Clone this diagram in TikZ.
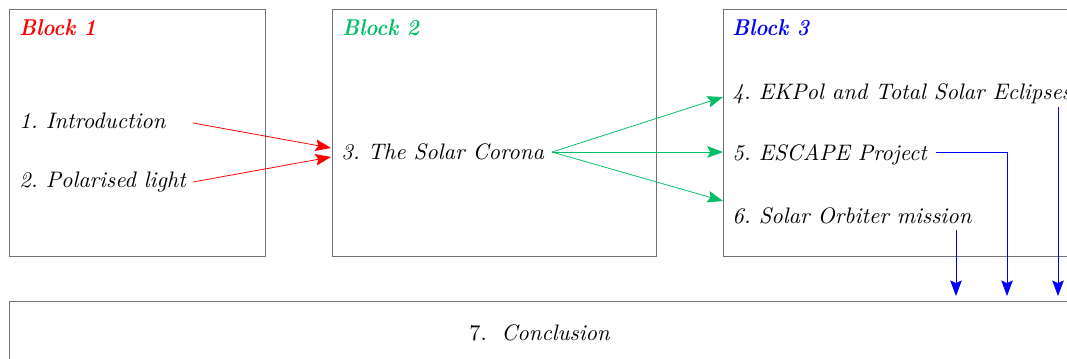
\documentclass[tikz,border=0pt]{standalone}
\usetikzlibrary{arrows.meta}
\definecolor{bgreen}{RGB}{0,190,100}
\newcommand{\itemfont}{\fontsize{10.1pt}{12pt}\selectfont\itshape}
\newcommand{\blocktitle}[1]{\scalebox{0.9}[1]{\bfseries #1}}
\tikzset{
  box/.style={draw=black!55, line width=0.45pt},
  item/.style={anchor=west, inner sep=0pt, font=\itemfont},
  title/.style={anchor=west, inner sep=0pt, font=\fontsize{10.3pt}{12pt}\selectfont\itshape},
  conn/.style={line width=0.35pt, -{Stealth[length=7pt, width=5.2pt, inset=1.2pt]}},
}
\begin{document}
\frenchspacing
\begin{tikzpicture}[x=0.45pt, y=-0.45pt]
\useasboundingbox (0,0) rectangle (1067,358);
\clip (0,0) rectangle (1067,358);
% boxes
\draw[box] (9,9) rectangle (265,256);
\draw[box] (332,9) rectangle (656,256);
\draw[box] (723,9) rectangle (1090,256);
\draw[box] (9,301) rectangle (1067,380);
% titles
\node[title, text=red] (t1) at (19,28) {\blocktitle{Block 1}};
\node[title, text=bgreen] (t2) at (342,28) {\blocktitle{Block 2}};
\node[title, text=blue] (t3) at (732,28) {\blocktitle{Block 3}};
% items
\node[item] (n1) at (19,121) {1.\ Introduction};
\node[item] (n2) at (19,182) {2.\ Polarised light};
\node[item] (n3) at (341,152) {3.\ The Solar Corona};
\node[item] (n4) at (732,94) {4.\ EKPol and Total Solar Eclipses};
\node[item] (n5) at (732,155) {5.\ ESCAPE Project};
\node[item] (n6) at (732,216) {6.\ Solar Orbiter mission};
\node[inner sep=0pt, anchor=west, font=\fontsize{10.1pt}{12pt}\selectfont] (n7) at (469,333) {7.\hspace{6.5pt}\textit{Conclusion}};
% coordinates
\coordinate (s1) at (193,123);
\coordinate (s2) at (193,182);
\coordinate (e1) at (331,148);
\coordinate (e2) at (331,157);
\coordinate (g0) at (552,152);
\coordinate (g4) at (723,97);
\coordinate (g5) at (723,152);
\coordinate (g6) at (723,201);
\coordinate (b6) at (956,230);
\coordinate (b5) at (936,152);
\coordinate (b4) at (1058,107);
\draw[conn, red] (s1) -- (e1);
\draw[conn, red] (s2) -- (e2);
\draw[conn, bgreen] (g0) -- (g4);
\draw[conn, bgreen] (g0) -- (g5);
\draw[conn, bgreen] (g0) -- (g6);
\draw[conn, blue] (b6) -- (956,296);
\draw[conn, blue] (b5) -- (1007,152) -- (1007,296);
\draw[conn, blue] (b4) -- (1058,296);
\end{tikzpicture}
\end{document}
